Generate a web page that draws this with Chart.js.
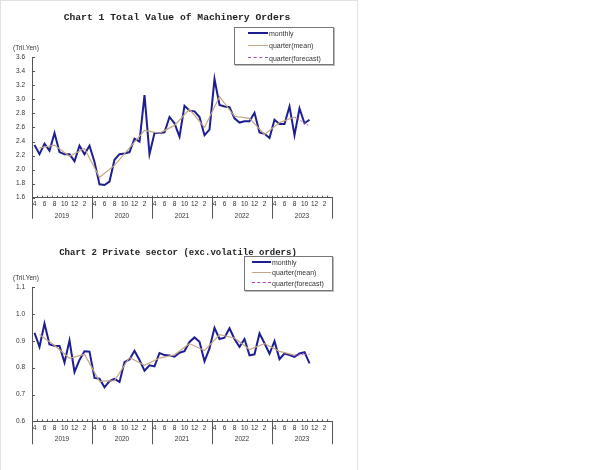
<!DOCTYPE html>
<html>
<head>
<meta charset="utf-8">
<script src="https://cdn.jsdelivr.net/npm/chart.js@4.4.0/dist/chart.umd.min.js"></script>
<style>
  html, body { margin: 0; padding: 0; background: #fff; }
  body { width: 600px; height: 470px; position: relative; overflow: hidden; font-family: 'Liberation Sans', Arial, sans-serif; }
  .frame { position: absolute; left: 0; top: 0; width: 356px; height: 475px; border: 1px solid #e2e2e2; }
  canvas { position: absolute; left: 0; }
  .title { position: absolute; font-family: 'Liberation Mono', 'Courier New', monospace; font-weight: bold; color: #222; white-space: nowrap; transform: translate(-50%, -50%); }
  .unit { position: absolute; font-size: 6.5px; color: #333; white-space: nowrap; transform: translateY(-50%); }
  .legend { position: absolute; border: 1px solid #777; box-shadow: 1px 1px 0 #bbb; background: #fff; }
  .row { position: absolute; height: 0; }
  .row .s { position: absolute; left: 0; top: 0; }
  .row .t { position: absolute; top: 0; font-size: 7px; color: #333; white-space: nowrap; transform: translateY(-50%); }
</style>
</head>
<body>
<div class="frame"></div>
<canvas id="c1" width="360" height="230" style="top:0;width:360px;height:230px"></canvas>
<canvas id="c2" width="360" height="240" style="top:230px;width:360px;height:240px"></canvas>

<div class="title" style="left:177px;top:17px;font-size:9.7px">Chart 1 Total Value of Machinery Orders</div>
<div class="unit" style="left:13px;top:47px">(Tril.Yen)</div>
<div class="legend" style="left:234px;top:27px;width:98px;height:36px"></div>
<div id="lg1"></div>

<div class="title" style="left:178px;top:252.5px;font-size:9px">Chart 2 Private sector (exc.volatile orders)</div>
<div class="unit" style="left:13px;top:277px">(Tril.Yen)</div>
<div class="legend" style="left:244px;top:256px;width:87px;height:33px"></div>
<div id="lg2"></div>

<script>
// ---------- data ----------
const YEARS = ['2019', '2020', '2021', '2022', '2023'];           // fiscal years (Apr - Mar)
const MONTHS = ['4','5','6','7','8','9','10','11','12','1','2','3'];

// Chart 1: Total value of machinery orders, monthly Apr 2019 - Nov 2023 (Tril. Yen)
const total_monthly = [
  2.35, 2.22, 2.37, 2.27, 2.52, 2.25, 2.22, 2.22, 2.12, 2.34, 2.22, 2.34,
  2.11, 1.79, 1.78, 1.83, 2.14, 2.22, 2.23, 2.25, 2.44, 2.40, 3.06, 2.22,
  2.52, 2.52, 2.53, 2.75, 2.66, 2.47, 2.91, 2.84, 2.83, 2.75, 2.49, 2.57,
  3.29, 2.92, 2.90, 2.89, 2.73, 2.67, 2.69, 2.69, 2.81, 2.53, 2.51, 2.45,
  2.71, 2.65, 2.65, 2.90, 2.49, 2.87, 2.66, 2.71
];
// quarterly means, Q2 2019 - Q3 2023 (plotted at the middle month)
const total_quarter = [2.31, 2.35, 2.19, 2.30, 1.89, 2.06, 2.31, 2.56, 2.52, 2.63, 2.86, 2.60, 3.04, 2.76, 2.73, 2.50, 2.67, 2.75];
// forecast segment: Q3 2023 (actual) -> Q4 2023 (forecast)
const total_forecast = [2.75, 2.62];
const total_yticks = { min: 1.6, max: 3.6, step: 0.2 };

// Chart 2: Private sector (exc. volatile orders), monthly Apr 2019 - Nov 2023
const private_monthly = [
  0.930, 0.878, 0.965, 0.887, 0.882, 0.881, 0.819, 0.901, 0.784, 0.829, 0.861, 0.860,
  0.762, 0.759, 0.727, 0.750, 0.758, 0.747, 0.821, 0.831, 0.863, 0.829, 0.789, 0.809,
  0.805, 0.855, 0.847, 0.846, 0.841, 0.856, 0.862, 0.896, 0.913, 0.897, 0.824, 0.872,
  0.949, 0.907, 0.912, 0.947, 0.907, 0.878, 0.907, 0.846, 0.850, 0.928, 0.891, 0.852,
  0.899, 0.832, 0.853, 0.847, 0.840, 0.853, 0.858, 0.816
];
const private_quarter = [0.924, 0.883, 0.835, 0.850, 0.749, 0.752, 0.838, 0.809, 0.836, 0.848, 0.890, 0.864, 0.923, 0.911, 0.868, 0.890, 0.861, 0.847];
const private_forecast = [0.847, 0.850];
const private_yticks = { min: 0.6, max: 1.1, step: 0.1 };

const SERIES_NAMES = ['monthly', 'quarter(mean)', 'quarter(forecast)'];
const COLORS = { monthly: '#1e1e94', mean: '#c4a788', forecast: '#b048b0', axis: '#555', text: '#333' };

// ---------- helpers ----------
const categories = [];
YEARS.forEach(y => MONTHS.forEach(m => categories.push(y + '-' + m)));
const N = categories.length; // 60

function padSeries(arr) {
  const out = new Array(N).fill(null);
  arr.forEach((v, i) => out[i] = v);
  return out;
}
function quarterSeries(arr) {
  const out = new Array(N).fill(null);
  arr.forEach((v, q) => out[1 + 3 * q] = v); // middle month of each quarter
  return out;
}
function forecastSeries(arr, lastQuarterIndex) {
  const out = new Array(N).fill(null);
  arr.forEach((v, k) => out[1 + 3 * (lastQuarterIndex + k)] = v);
  return out;
}

const decor = {
  id: 'decor',
  afterDraw(chart, args, opts) {
    const { ctx, chartArea: ca } = chart;
    const x2 = chart.scales.x2, y = chart.scales.y;
    ctx.save();
    ctx.strokeStyle = COLORS.axis;
    ctx.lineWidth = 1;
    ctx.beginPath();
    for (let v = 0; v <= N; v += 12) {
      const px = Math.round(x2.getPixelForValue(v)) + 0.5;
      ctx.moveTo(px, ca.bottom);
      ctx.lineTo(px, ca.bottom + opts.sep);
    }
    for (let v = 1; v < N; v++) {
      const px = Math.round(x2.getPixelForValue(v)) + 0.5;
      ctx.moveTo(px, ca.bottom);
      ctx.lineTo(px, ca.bottom - 2);
    }
    y.ticks.forEach(t => {
      const py = Math.round(y.getPixelForValue(t.value)) + 0.5;
      ctx.moveTo(ca.left, py);
      ctx.lineTo(ca.left + 3, py);
    });
    ctx.stroke();
    ctx.restore();
  }
};

Chart.defaults.font.family = "'Liberation Sans', Arial, sans-serif";
Chart.defaults.color = COLORS.text;

function makeChart(id, monthly, quarter, forecast, yt, pad, sep) {
  return new Chart(document.getElementById(id), {
    type: 'line',
    data: {
      labels: categories,
      datasets: [
        { label: SERIES_NAMES[1], data: quarterSeries(quarter), borderColor: COLORS.mean, borderWidth: 1.2, pointRadius: 0, spanGaps: true, tension: 0 },
        { label: SERIES_NAMES[2], data: forecastSeries(forecast, quarter.length - 1), borderColor: COLORS.forecast, borderWidth: 1, borderDash: [2, 1.5], pointRadius: 0, spanGaps: true, tension: 0 },
        { label: SERIES_NAMES[0], data: padSeries(monthly), borderColor: COLORS.monthly, borderWidth: 2, pointRadius: 0, tension: 0 }
      ]
    },
    options: {
      responsive: false,
      animation: false,
      layout: { padding: pad },
      plugins: { legend: { display: false }, tooltip: { enabled: false }, title: { display: false }, decor: { sep } },
      scales: {
        x: {
          type: 'category',
          offset: true,
          grid: { display: false, drawTicks: false },
          border: { display: true, color: COLORS.axis, width: 1 },
          ticks: {
            autoSkip: false, maxRotation: 0, padding: 2.6,
            font: { size: 6.5 },
            callback: (v, i) => (i % 2 === 0 ? MONTHS[i % 12] : '')
          },
          afterFit: s => { s.height = 11; }
        },
        x2: {
          type: 'linear',
          position: 'bottom',
          min: 0, max: N,
          grid: { display: false, drawTicks: false },
          border: { display: false },
          afterBuildTicks: s => { s.ticks = YEARS.map((y, k) => ({ value: 6 + 12 * k })); },
          ticks: {
            autoSkip: false, maxRotation: 0, padding: 3.4,
            font: { size: 6.5 },
            callback: v => YEARS[(v - 6) / 12]
          },
          afterFit: s => { s.height = 13; }
        },
        y: {
          min: yt.min, max: yt.max,
          grid: { display: false, drawTicks: false },
          border: { display: true, color: COLORS.axis, width: 1 },
          ticks: {
            stepSize: yt.step, padding: 7,
            font: { size: 6.5 },
            callback: v => v.toFixed(1)
          },
          afterFit: s => { s.width = 32; }
        }
      }
    },
    plugins: [decor]
  });
}

makeChart('c1', total_monthly, total_quarter, total_forecast, total_yticks,
  { top: 57.3, right: 28, bottom: 8.3, left: 0 }, 21);
makeChart('c2', private_monthly, private_quarter, private_forecast, private_yticks,
  { top: 57.3, right: 28, bottom: 24.7, left: 0 }, 23);

// ---------- HTML legends ----------
function legend(el, rows, x0, x1, xt) {
  const styles = [
    `border-top:2px solid ${COLORS.monthly};margin-top:-1px`,
    `border-top:1.5px solid ${COLORS.mean};margin-top:-0.75px`,
    `border-top:1px dashed ${COLORS.forecast};margin-top:-0.5px`
  ];
  el.innerHTML = SERIES_NAMES.map((name, i) =>
    `<div class="row" style="left:${x0}px;top:${rows[i]}px">` +
    `<div class="s" style="width:${x1 - x0}px;${styles[i]}"></div>` +
    `<div class="t" style="left:${xt - x0}px">${name}</div></div>`).join('');
}
legend(document.getElementById('lg1'), [33, 45.3, 57.7], 248, 268, 269);
legend(document.getElementById('lg2'), [261.7, 272.3, 282.7], 252, 271, 272);
</script>
</body>
</html>
